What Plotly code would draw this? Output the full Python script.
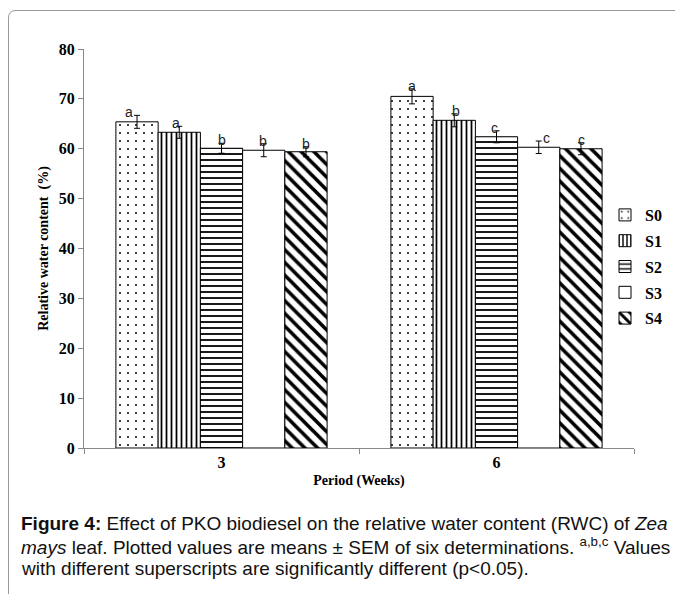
import plotly.graph_objects as go

periods = ["3", "6"]
series = ["S0", "S1", "S2", "S3", "S4"]
values = {
    "S0": [65.4, 70.5],
    "S1": [63.3, 65.7],
    "S2": [60.1, 62.4],
    "S3": [59.7, 60.3],
    "S4": [59.4, 60.0],
}
sem = {
    "S0": [1.3, 1.5],
    "S1": [1.2, 1.3],
    "S2": [1.0, 1.2],
    "S3": [1.3, 1.25],
    "S4": [1.0, 1.2],
}
letters = {
    "S0": ["a", "a"],
    "S1": ["a", "b"],
    "S2": ["b", "c"],
    "S3": ["b", "c"],
    "S4": ["b", "c"],
}
y_ticks = [0, 10, 20, 30, 40, 50, 60, 70, 80]

patterns = {
    "S0": dict(shape=".", size=8, solidity=0.05),
    "S1": dict(shape="|", size=5, solidity=0.35),
    "S2": dict(shape="-", size=6, solidity=0.3),
    "S3": dict(shape="", size=8, solidity=0.2),
    "S4": dict(shape="\\", size=9, solidity=0.4),
}
letter_dx = {
    "S0": [-8, 0],
    "S1": [-3, 2],
    "S2": [0, -2],
    "S3": [-1, 8],
    "S4": [0, 1],
}

# page has an 8px body margin: work in page pixels, convert by OFF
OFF = 8
L, R, T, B = 84 - OFF, 634 - OFF, 49 - OFF, 448 - OFF
W, H = 683 - OFF, 594 - OFF

fig = go.Figure()
for i, s in enumerate(series):
    p = dict(fgcolor="black", bgcolor="white", fillmode="replace")
    p.update(patterns[s])
    fig.add_trace(go.Bar(
        name=s, x=periods, y=values[s],
        marker=dict(color="white", line=dict(color="black", width=1), pattern=p),
        error_y=dict(type="data", array=sem[s], color="black", thickness=1, width=3),
        legendgroup=s,
    ))

slot = (R - L) / 2 * (1 - 0.232) / 5
anns = []
for i, s in enumerate(series):
    for j, per in enumerate(periods):
        anns.append(dict(
            x=j, y=values[s][j] + sem[s][j], xref="x", yref="y",
            text=letters[s][j], showarrow=False,
            xshift=(i - 2) * slot + letter_dx[s][j], yshift=3,
            yanchor="middle",
            font=dict(family="Liberation Sans, Arial", size=14, color="#222"),
        ))

def px(xp):
    return (xp - OFF - L) / (R - L)

def py(yp):
    return (B - (yp - OFF)) / (B - T)

caption_font = dict(family="Liberation Sans, Arial", size=19, color="#111")
caption = [
    "<b>Figure 4:</b> Effect of PKO biodiesel on the relative water content (RWC) of <i>Zea</i>",
    "<i>mays</i> leaf. Plotted values are means ± SEM of six determinations. <sup>a,b,c</sup> Values",
    "with different superscripts are significantly different (p<0.05).",
]
for k, line in enumerate(caption):
    anns.append(dict(
        x=px(19), y=py(523 + 22.5 * k), xref="paper", yref="paper",
        text=line, showarrow=False, xanchor="left", yanchor="middle",
        font=caption_font, align="left",
    ))

shapes = [dict(
    type="path", xref="paper", yref="paper",
    path=(f"M {px(8.5)},{py(600)} L {px(8.5)},{py(18)} "
          f"Q {px(8.5)},{py(10.5)} {px(16)},{py(10.5)} L {px(700)},{py(10.5)}"),
    line=dict(color="#999", width=1),
)]

fig.update_layout(
    width=W, height=H,
    margin=dict(l=L, r=W - R, t=T, b=H - B, autoexpand=False),
    paper_bgcolor="white", plot_bgcolor="white",
    barmode="group", bargap=0.232, bargroupgap=0,
    font=dict(family="Liberation Serif, Times New Roman", color="black"),
    annotations=anns, shapes=shapes,
    legend=dict(
        x=px(605), y=py(198), xanchor="left", yanchor="top",
        xref="paper", yref="paper",
        font=dict(family="Liberation Serif", size=16, color="black", weight="bold"),
        tracegroupgap=2, itemwidth=30, bgcolor="rgba(0,0,0,0)",
    ),
    showlegend=True,
)
fig.update_xaxes(
    type="category", range=[-0.5, 1.5], showline=True, linecolor="#888", linewidth=1,
    ticks="outside", ticklen=5, tickcolor="#888", tickson="boundaries",
    tickfont=dict(family="Liberation Serif", size=16, weight="bold"),
    title=dict(text="<b>Period (Weeks)</b>", font=dict(size=14), standoff=4),
    showgrid=False, automargin=False,
)
fig.update_yaxes(
    range=[0, 80], tickvals=y_ticks, showline=True, linecolor="#888", linewidth=1,
    ticks="outside", ticklen=5, tickcolor="#888",
    tickfont=dict(family="Liberation Serif", size=16, weight="bold"),
    title=dict(text="<b>Relative water content  (%)</b>", font=dict(size=14), standoff=6),
    showgrid=False, zeroline=False, automargin=False,
)

fig.write_html("out.html")
